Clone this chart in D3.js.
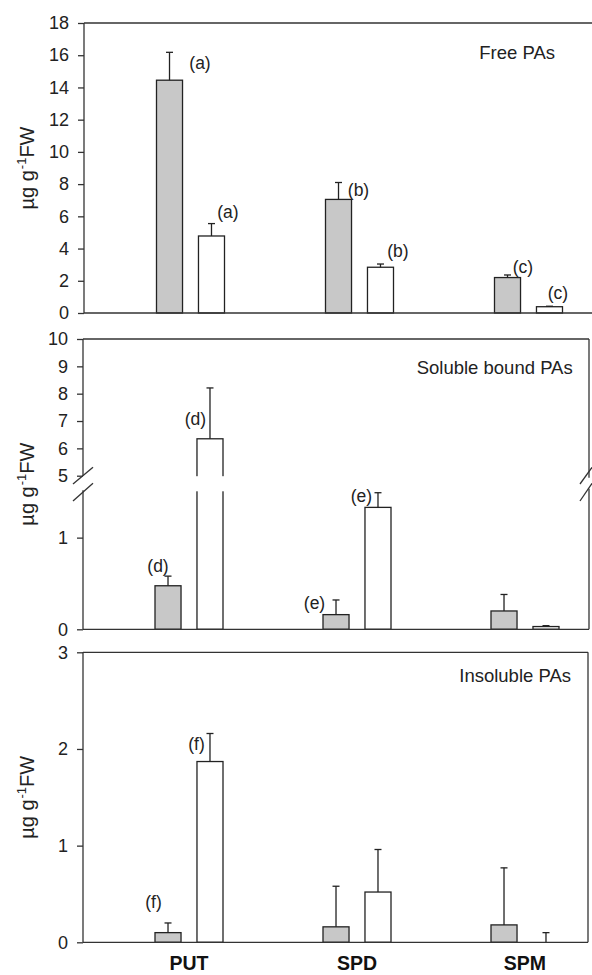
<!DOCTYPE html>
<html><head><meta charset="utf-8">
<script src="https://cdn.jsdelivr.net/npm/d3@7/dist/d3.min.js"></script>
<style>html,body{margin:0;padding:0;background:#fff;}svg{display:block;}</style>
</head><body>
<script>
// ---- data ----
const categories = ["PUT", "SPD", "SPM"];
const series = ["gray", "white"];

const freeGray = [14.45, 7.05, 2.2];
const freeGraySE = [1.73, 1.05, 0.16];
const freeWhite = [4.78, 2.84, 0.39];
const freeWhiteSE = [0.77, 0.2, 0.03];

const solGray = [0.475, 0.16, 0.2];
const solGraySE = [0.105, 0.16, 0.18];
const solWhite = [6.35, 1.33, 0.03];
const solWhiteSE = [1.86, 0.16, 0.01];

const insGray = [0.1, 0.16, 0.18];
const insGraySE = [0.1, 0.42, 0.59];
const insWhite = [1.87, 0.52, 0];
const insWhiteSE = [0.29, 0.44, 0.1];

const freeTicks = [0, 2, 4, 6, 8, 10, 12, 14, 16, 18];
const solTicks = [0, 1, 5, 6, 7, 8, 9, 10];
const insTicks = [0, 1, 2, 3];

const freeLetters = [["(a)", "(a)"], ["(b)", "(b)"], ["(c)", "(c)"]];
const solLetters = [["(d)", "(d)"], ["(e)", "(e)"], [null, null]];
const insLetters = [["(f)", "(f)"], [null, null], [null, null]];

const titles = ["Free PAs", "Soluble bound PAs", "Insoluble PAs"];
const yLabelMain = "µg g";
const yLabelSup = "-1";
const yLabelEnd = "FW";

// ---- layout (pixel nudges for letter annotations, relative to error-bar tip) ----
const freeNudge = [[[30.5, 11], [16.5, -11.7]], [[20, 7.3], [17.5, -13]], [[15.5, -8], [8.5, -13]]];
const solNudge = [[[-10, -10], [-14.5, 31]], [[-21.5, 2.7], [-16.5, 3]], [null, null]];
const insNudge = [[[-14.5, -21], [-13.5, 10]], [null, null], [null, null]];

const W = 592, H = 975;
const FONT = "'Liberation Sans', Arial, Helvetica, sans-serif";
const INK = "#222";

const svg = d3.select("body").append("svg").attr("width", W).attr("height", H)
  .style("font-family", FONT);

const panels = [
  { top: 23, bottom: 313, left: 84, right: 600, xr: [106, 613],
    ydom: [0, 18], yr: [313, 23], ticks: freeTicks,
    g: freeGray, gse: freeGraySE, w: freeWhite, wse: freeWhiteSE,
    letters: freeLetters, nudge: freeNudge, title: titles[0], titleX: 555, titleY: 52, brk: null, showRight: false },
  { top: 339, bottom: 629.3, left: 83, right: 589, xr: [105, 609],
    ydom: [0, 1.5, 5, 10], yr: [629.3, 491.8, 475.7, 339], ticks: solTicks,
    g: solGray, gse: solGraySE, w: solWhite, wse: solWhiteSE,
    letters: solLetters, nudge: solNudge, title: titles[1], titleX: 572.7, titleY: 367.7, brk: [475.7, 491.8], showRight: true },
  { top: 652.3, bottom: 942.3, left: 83, right: 588, xr: [105, 609],
    ydom: [0, 3], yr: [942.3, 652.3], ticks: insTicks,
    g: insGray, gse: insGraySE, w: insWhite, wse: insWhiteSE,
    letters: insLetters, nudge: insNudge, title: titles[2], titleX: 571, titleY: 675, brk: null, showRight: true }
];

panels.forEach((p, pi) => {
  const g = svg.append("g");
  const x = d3.scaleBand().domain(categories).range(p.xr);
  const xi = d3.scaleBand().domain(series).range([-34, 34]).paddingInner(0.38);
  const y = d3.scaleLinear().domain(p.ydom).range(p.yr);

  const rows = [];
  categories.forEach((c, i) => {
    rows.push({ c, s: "gray", v: p.g[i], se: p.gse[i], lab: p.letters[i][0], nd: p.nudge[i][0] });
    rows.push({ c, s: "white", v: p.w[i], se: p.wse[i], lab: p.letters[i][1], nd: p.nudge[i][1] });
  });
  const bx = d => x(d.c) + x.bandwidth() / 2 + xi(d.s);
  const bc = d => bx(d) + xi.bandwidth() / 2;

  // bars
  g.selectAll("rect.bar").data(rows.filter(d => d.v > 0)).join("rect")
    .attr("class", "bar")
    .attr("x", bx).attr("width", xi.bandwidth())
    .attr("y", d => y(d.v)).attr("height", d => y(0) - y(d.v))
    .attr("fill", d => d.s === "gray" ? "#c8c8c8" : "#fff")
    .attr("stroke", INK).attr("stroke-width", 1.3);

  // break gap in bars
  if (p.brk) {
    g.selectAll("rect.gap").data(rows.filter(d => d.v > p.ydom[1])).join("rect")
      .attr("class", "gap")
      .attr("x", d => bx(d) - 2).attr("width", xi.bandwidth() + 4)
      .attr("y", p.brk[0] + 0.5).attr("height", p.brk[1] - p.brk[0] - 1)
      .attr("fill", "#fff");
  }

  // error bars
  const eb = g.selectAll("g.err").data(rows.filter(d => d.se > 0)).join("g").attr("class", "err");
  eb.append("line")
    .attr("x1", bc).attr("x2", bc)
    .attr("y1", d => y(d.v)).attr("y2", d => y(d.v + d.se))
    .attr("stroke", INK).attr("stroke-width", 1.3);
  eb.append("line")
    .attr("x1", d => bc(d) - 3.5).attr("x2", d => bc(d) + 3.5)
    .attr("y1", d => y(d.v + d.se)).attr("y2", d => y(d.v + d.se))
    .attr("stroke", INK).attr("stroke-width", 1.3);

  // letters
  g.selectAll("text.lab").data(rows.filter(d => d.lab)).join("text")
    .attr("class", "lab")
    .attr("x", d => bc(d) + d.nd[0])
    .attr("y", d => y(d.v + d.se) + d.nd[1])
    .attr("text-anchor", "middle").attr("dominant-baseline", "central")
    .attr("font-size", 17.5).attr("fill", INK).text(d => d.lab);

  // frame: top, right, bottom
  const fr = g.append("g").attr("stroke", "#333").attr("stroke-width", 1.3).attr("fill", "none");
  fr.append("line").attr("x1", p.left).attr("x2", p.right).attr("y1", p.top).attr("y2", p.top);
  fr.append("line").attr("x1", p.left).attr("x2", p.right).attr("y1", p.bottom).attr("y2", p.bottom);
  if (p.showRight) {
    if (p.brk) {
      fr.append("line").attr("x1", p.right).attr("x2", p.right).attr("y1", p.top).attr("y2", p.brk[0] + 2);
      fr.append("line").attr("x1", p.right).attr("x2", p.right).attr("y1", p.brk[1] - 3).attr("y2", p.bottom);
    } else {
      fr.append("line").attr("x1", p.right).attr("x2", p.right).attr("y1", p.top).attr("y2", p.bottom);
    }
  }

  // left axis
  const yAxis = d3.axisLeft(y).tickValues(p.ticks).tickSize(6).tickPadding(9).tickFormat(d3.format("d"));
  const ax = g.append("g").attr("transform", `translate(${p.left},0)`).call(yAxis);
  ax.select(".domain").remove();
  ax.selectAll(".tick line").attr("stroke", "#333").attr("stroke-width", 1.3);
  ax.selectAll(".tick text").attr("font-size", 18).attr("fill", INK).attr("font-family", FONT);
  if (p.brk) {
    ax.append("line").attr("x1", 0).attr("x2", 0).attr("y1", p.top).attr("y2", p.brk[0]).attr("stroke", "#333").attr("stroke-width", 1.3);
    ax.append("line").attr("x1", 0).attr("x2", 0).attr("y1", p.brk[1] - 1.5).attr("y2", p.bottom).attr("stroke", "#333").attr("stroke-width", 1.3);
    // break slashes left and right
    [p.left, p.right].forEach((bxp, k) => {
      const dxl = k === 0 ? -10 : -9, dxr = k === 0 ? 10 : 3;
      [[p.brk[0] + 8.3, p.brk[0] - 8.4], [p.brk[1] + 9.2, p.brk[1] - 8.5]].forEach(([ya, yb]) => {
        svg.append("line").attr("x1", bxp + dxl).attr("y1", ya).attr("x2", bxp + dxr).attr("y2", yb)
          .attr("stroke", "#333").attr("stroke-width", 1.3);
      });
    });
  } else {
    ax.append("line").attr("x1", 0).attr("x2", 0).attr("y1", p.top).attr("y2", p.bottom).attr("stroke", "#333").attr("stroke-width", 1.3);
  }

  // title
  g.append("text").attr("x", p.titleX).attr("y", p.titleY)
    .attr("text-anchor", "end").attr("dominant-baseline", "central")
    .attr("font-size", 18.5).attr("fill", INK).text(p.title);

  // y label
  const cy = (p.top + p.bottom) / 2;
  const yl = g.append("text").attr("transform", `translate(34,${cy}) rotate(-90)`)
    .attr("text-anchor", "middle").attr("font-size", 20).attr("fill", INK);
  yl.append("tspan").text(yLabelMain);
  yl.append("tspan").attr("font-size", 13).attr("dy", -8).attr("dx", 1).text(yLabelSup);
  yl.append("tspan").attr("dy", 8).text(yLabelEnd);

  // category labels on bottom panel
  if (pi === 2) {
    g.selectAll("text.cat").data(categories).join("text").attr("class", "cat")
      .attr("x", d => x(d) + x.bandwidth() / 2).attr("y", 969.5)
      .attr("text-anchor", "middle").attr("font-size", 19.5).attr("font-weight", "bold")
      .attr("fill", "#111").text(d => d);
  }
});
</script>
</body></html>
